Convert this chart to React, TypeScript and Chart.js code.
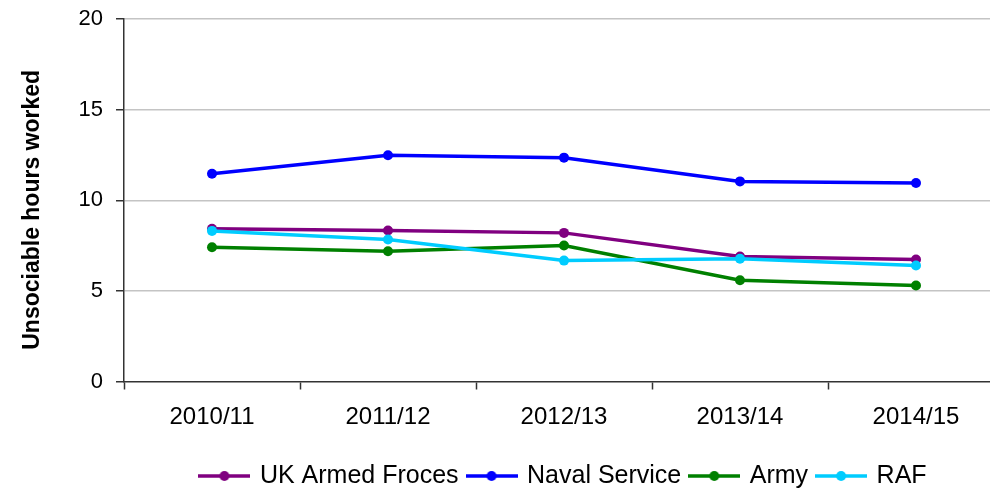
import React, { useEffect, useRef } from "react";
import { Chart, registerables } from "chart.js";

Chart.register(...registerables);

const categories = ["2010/11", "2011/12", "2012/13", "2013/14", "2014/15"];
const ukArmedForces = [8.43, 8.33, 8.2, 6.9, 6.73];
const navalService = [11.46, 12.48, 12.35, 11.04, 10.95];
const army = [7.41, 7.19, 7.5, 5.59, 5.3];
const raf = [8.31, 7.83, 6.67, 6.77, 6.4];
const seriesNames = ["UK Armed Froces", "Naval Service", "Army", "RAF"];
const seriesColors = ["#800080", "#0000ff", "#008000", "#00ccff"];
const yTicks = [0, 5, 10, 15, 20];

const FONT = "'Liberation Sans', Arial, sans-serif";

function makeMarker(color: string): HTMLCanvasElement {
  const c = document.createElement("canvas");
  c.width = 52;
  c.height = 14;
  const ctx = c.getContext("2d")!;
  ctx.strokeStyle = color;
  ctx.lineWidth = 3.5;
  ctx.beginPath();
  ctx.moveTo(0, 7);
  ctx.lineTo(52, 7);
  ctx.stroke();
  ctx.fillStyle = color;
  ctx.beginPath();
  ctx.arc(26, 7, 5, 0, Math.PI * 2);
  ctx.fill();
  return c;
}

export default function App() {
  const ref = useRef<HTMLCanvasElement>(null);

  useEffect(() => {
    if (!ref.current) return;
    const values = [ukArmedForces, navalService, army, raf];
    const markers = seriesColors.map(makeMarker);
    const chart = new Chart(ref.current, {
      type: "line",
      data: {
        labels: categories,
        datasets: values.map((v, i) => ({
          label: seriesNames[i],
          data: v,
          borderColor: seriesColors[i],
          backgroundColor: seriesColors[i],
          pointBackgroundColor: seriesColors[i],
          pointBorderColor: seriesColors[i],
          borderWidth: 3.5,
          pointRadius: 5,
          pointBorderWidth: 0,
          tension: 0,
          order: 4 - i,
        })),
      },
      options: {
        animation: false,
        responsive: true,
        maintainAspectRatio: false,
        devicePixelRatio: 1,
        layout: { padding: { top: 19, right: 6, left: 0, bottom: 1.5 } },
        plugins: {
          tooltip: { enabled: false },
          legend: {
            position: "bottom",
            fullSize: false,
            reverse: true,
            labels: {
              usePointStyle: true,
              pointStyleWidth: 46,
              padding: 10,
              color: "#000",
              font: { family: FONT, size: 25 },
              generateLabels: (ch: any) => {
                const items = Chart.defaults.plugins.legend.labels.generateLabels(ch);
                return items.map((it: any) => ({
                  ...it,
                  pointStyle: markers[it.datasetIndex],
                }));
              },
            },
          },
        },
        scales: {
          x: {
            offset: true,
            grid: {
              offset: true,
              drawOnChartArea: false,
              drawTicks: true,
              tickLength: 8,
              tickColor: "#333",
              tickWidth: 1.5,
            },
            border: { color: "#333", width: 1.5 },
            ticks: {
              color: "#000",
              padding: 13,
              maxRotation: 0,
              font: { family: FONT, size: 24 },
            },
            afterFit: (scale: any) => {
              scale.height = 72;
              scale.paddingLeft = 0;
              scale.paddingRight = 0;
            },
          },
          y: {
            min: 0,
            max: 20,
            afterBuildTicks: (scale: any) => {
              scale.ticks = yTicks.map((v) => ({ value: v }));
            },
            grid: {
              color: (ctx: any) => (ctx.tick && ctx.tick.value === 0 ? "rgba(0,0,0,0)" : "#c4c4c4"),
              lineWidth: 1.5,
              tickLength: 8,
              tickColor: "#333",
              tickWidth: 1.5,
            },
            border: { color: "#333", width: 1.5 },
            ticks: {
              color: "#000",
              padding: 13,
              font: { family: FONT, size: 22 },
            },
            title: {
              display: true,
              text: "Unsociable hours worked   ",
              color: "#000",
              font: { family: FONT, size: 23, weight: "bold" },
              padding: { top: 19, bottom: 0 },
            },
            afterFit: (scale: any) => {
              scale.width = 124;
              scale.paddingTop = 0;
              scale.paddingBottom = 0;
            },
          },
        },
      },
    });
    return () => chart.destroy();
  }, []);

  return (
    <div
      style={{
        position: "fixed",
        top: 0,
        left: 0,
        width: 990,
        height: 493,
        overflow: "hidden",
        background: "#fff",
      }}
    >
      <div style={{ position: "relative", width: 1010, height: 500 }}>
        <canvas ref={ref} />
      </div>
    </div>
  );
}
